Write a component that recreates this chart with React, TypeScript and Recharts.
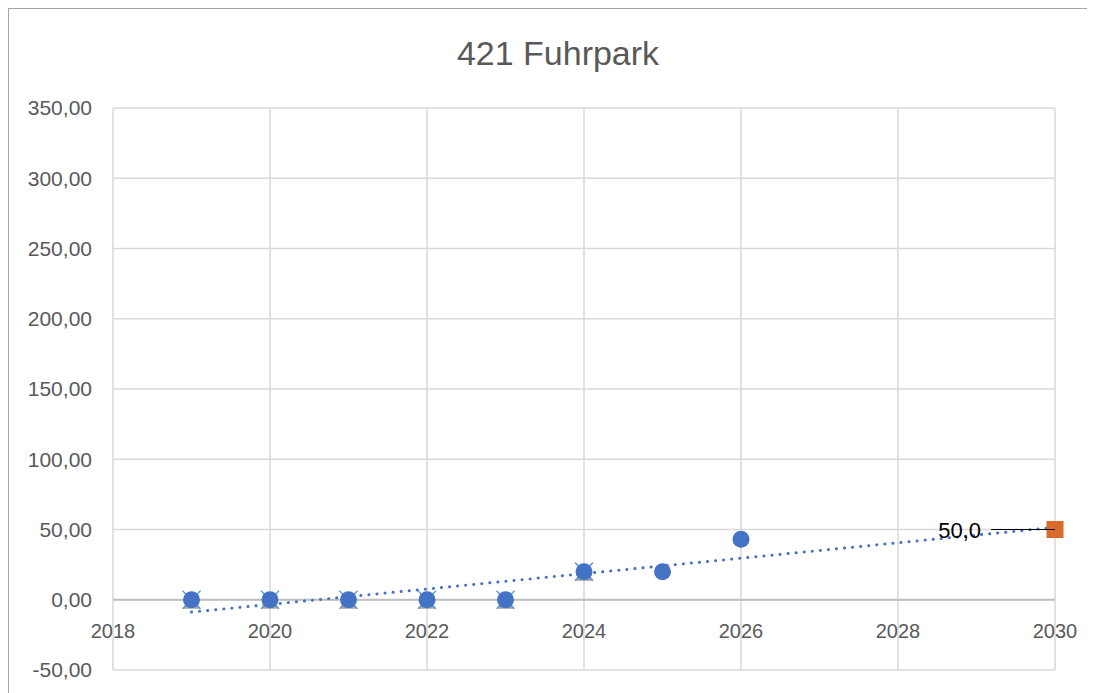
import {
  CartesianGrid,
  ComposedChart,
  LabelList,
  ReferenceLine,
  Scatter,
  XAxis,
  YAxis,
} from "recharts";

// Messwerte (blaue Punkte) je Jahr
const years = [2019, 2020, 2021, 2022, 2023, 2024, 2025, 2026];
const measured = [0, 0, 0, 0, 0, 20, 20, 43];

// Hinter den Punkten liegende Reihen (Dreieck / Kreuz)
const planYears = [2019, 2020, 2021, 2022, 2023, 2024];
const triangleVals = [0, 0, 0, 0, 0, 20];
const crossVals = [0, 0, 0, 0, 0, 20];

// Zielwert
const targetYears = [2030];
const targetVals = [50];

const trendYears = [2019, 2030];
const trendVals = [-8.8, 51.5];

const xTicks = [2018, 2020, 2022, 2024, 2026, 2028, 2030];
const yTicks = [-50, 0, 50, 100, 150, 200, 250, 300, 350];

const toPoints = (xs: number[], ys: number[]) =>
  xs.map((x, i) => ({ x, y: ys[i] }));

const measuredData = toPoints(years, measured);
const triangleData = toPoints(planYears, triangleVals);
const crossData = toPoints(planYears, crossVals);
const targetData = toPoints(targetYears, targetVals);
const trendData = toPoints(trendYears, trendVals);

const font = "'Liberation Sans', Arial, sans-serif";
const textGrey = "#595959";

const Circle = (p: any) => (
  <circle cx={p.cx} cy={p.cy} r={8.5} fill="#4472c4" />
);

const Triangle = (p: any) => (
  <polygon
    points={`${p.cx},${p.cy - 8} ${p.cx - 8.5},${p.cy + 9} ${p.cx + 8.5},${p.cy + 9}`}
    fill="#a5a5a5"
  />
);

const Cross = (p: any) => (
  <g stroke="#5b9bd5" strokeWidth={1.5}>
    <line x1={p.cx - 9} y1={p.cy - 9} x2={p.cx + 9} y2={p.cy + 9} />
    <line x1={p.cx - 9} y1={p.cy + 9} x2={p.cx + 9} y2={p.cy - 9} />
  </g>
);

const Square = (p: any) => (
  <rect x={p.cx - 8.5} y={p.cy - 8.5} width={17} height={17} fill="#d86c2a" />
);

const NoShape = () => null;

// Datenbeschriftung links vom Zielpunkt mit Führungslinie
const TargetLabel = (p: any) => {
  const { x, y, width, height, value } = p;
  const cx = x + (width ?? 0) / 2;
  const cy = y + (height ?? 0) / 2;
  return (
    <g>
      <line x1={cx - 64} y1={cy} x2={cx} y2={cy} stroke="#000" strokeWidth={1} />
      <text
        x={cx - 74}
        y={cy + 8}
        textAnchor="end"
        fontSize={22}
        fontFamily={font}
        fill="#000"
      >
        {Number(value).toFixed(1).replace(".", ",")}
      </text>
    </g>
  );
};

// X-Beschriftung sitzt an der Nulllinie, nicht am unteren Rand
const XTick = (p: any) => (
  <text
    x={p.x}
    y={p.y - 40}
    textAnchor="middle"
    fontSize={20}
    fontFamily={font}
    fill={textGrey}
  >
    {p.payload.value}
  </text>
);

export default function App() {
  return (
    <div
      style={{
        position: "relative",
        width: 1082,
        height: 700,
        border: "1px solid #a6a6a6",
        background: "#fff",
      }}
    >
      <div
        style={{
          position: "absolute",
          left: 0,
          top: 25,
          width: 1098,
          textAlign: "center",
          fontFamily: font,
          fontSize: 34,
          color: textGrey,
        }}
      >
        421 Fuhrpark
      </div>
      <ComposedChart
        width={1082}
        height={700}
        margin={{ top: 99, right: 36, bottom: 9, left: 0 }}
      >
        <CartesianGrid stroke="#d9d9d9" strokeWidth={1.5} />
        <XAxis
          type="number"
          dataKey="x"
          domain={[2018, 2030]}
          ticks={xTicks}
          axisLine={false}
          tickLine={false}
          tick={<XTick />}
          height={30}
        />
        <YAxis
          type="number"
          dataKey="y"
          domain={[-50, 350]}
          ticks={yTicks}
          width={104}
          axisLine={false}
          tickLine={false}
          tickSize={4}
          tickMargin={17}
          tickFormatter={(v: number) => v.toFixed(2).replace(".", ",")}
          tick={{ fontSize: 21, fontFamily: font, fill: textGrey }}
        />
        <ReferenceLine y={0} stroke="#bfbfbf" strokeWidth={2} />
        <Scatter
          data={trendData}
          shape={<NoShape />}
          line={{
            stroke: "#4472c4",
            strokeWidth: 3,
            strokeDasharray: "0.1 8",
            strokeLinecap: "round",
          }}
          isAnimationActive={false}
        />
        <Scatter data={triangleData} shape={<Triangle />} isAnimationActive={false} />
        <Scatter data={crossData} shape={<Cross />} isAnimationActive={false} />
        <Scatter data={measuredData} shape={<Circle />} isAnimationActive={false} />
        <Scatter data={targetData} shape={<Square />} isAnimationActive={false}>
          <LabelList dataKey="y" content={<TargetLabel />} />
        </Scatter>
      </ComposedChart>
    </div>
  );
}
